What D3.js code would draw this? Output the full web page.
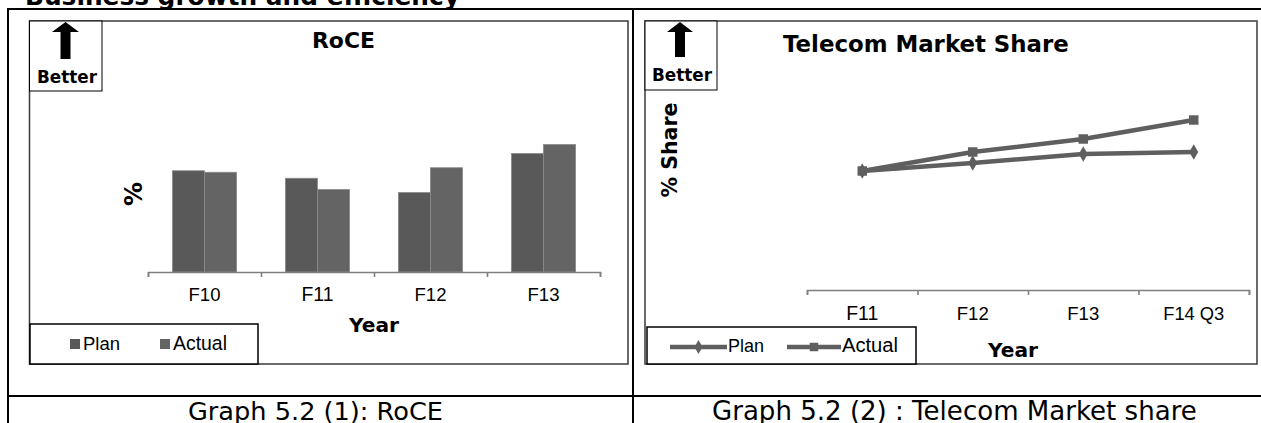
<!DOCTYPE html>
<html><head><meta charset="utf-8">
<script src="https://cdnjs.cloudflare.com/ajax/libs/d3/7.8.5/d3.min.js"></script>
<style>html,body{margin:0;padding:0;background:#fff;overflow:hidden}</style>
</head><body>
<svg id="c" width="1261" height="423"></svg>
<script>
// ---- data ----
const roceCategories = ["F10", "F11", "F12", "F13"];
const roceSeries = ["Plan", "Actual"];
const rocePlan = [13.5, 12.5, 10.6, 15.8];
const roceActual = [13.3, 11.0, 13.9, 17.0];

const telecomCategories = ["F11", "F12", "F13", "F14 Q3"];
const telecomSeries = ["Plan", "Actual"];
const telecomPlan = [23.8, 25.4, 27.2, 27.6];
const telecomActual = [23.8, 27.6, 30.2, 34.0];

const pageTitle = "Business growth and efficiency";
const captions = ["Graph 5.2 (1): RoCE", "Graph 5.2 (2) : Telecom Market share"];

// ---- drawing ----
const svg = d3.select("#c");
const BOLD = "'DejaVu Sans', Verdana, sans-serif";
const REG = "'DejaVu Sans', Tahoma, sans-serif";
const AX = "'Liberation Sans', Tahoma, sans-serif";

function txt(s, x, y, opt) {
  const t = svg.append("text").attr("x", x).attr("y", y).text(s)
    .attr("font-family", opt.family || REG)
    .attr("font-weight", opt.bold ? "bold" : "normal")
    .attr("font-size", 20)
    .attr("fill", "#000")
    .attr("text-anchor", opt.anchor || "start");
  if (opt.rotate) t.attr("transform", `rotate(-90 ${x} ${y})`);
  if (opt.width) {
    const len = t.node().getComputedTextLength();
    t.attr("font-size", (20 * opt.width / len).toFixed(2));
  }
  return t;
}

function arrow(cx, tipY, headW, baseY, shaftW, bottomY) {
  const p = d3.path();
  p.moveTo(cx, tipY);
  p.lineTo(cx + headW / 2, baseY);
  p.lineTo(cx + shaftW / 2, baseY);
  p.lineTo(cx + shaftW / 2, bottomY);
  p.lineTo(cx - shaftW / 2, bottomY);
  p.lineTo(cx - shaftW / 2, baseY);
  p.lineTo(cx - headW / 2, baseY);
  p.closePath();
  svg.append("path").attr("d", p.toString()).attr("fill", "#000");
}

// page title (cut off at top)
txt(pageTitle, 25, 5, {bold: true, family: BOLD, width: 435});

// table lines
const line = (x1, y1, x2, y2, w) => svg.append("line").attr("x1", x1).attr("y1", y1)
  .attr("x2", x2).attr("y2", y2).attr("stroke", "#000").attr("stroke-width", w);
line(7, 9, 1261, 9, 2);
line(8, 8, 8, 423, 2);
line(633, 8, 633, 423, 2);
line(7, 396, 1261, 396, 2);

// ======== Left chart: RoCE ========
svg.append("rect").attr("x", 29.5).attr("y", 21).attr("width", 598.5).attr("height", 343)
  .attr("fill", "#fff").attr("stroke", "#3a3a3a").attr("stroke-width", 1.5);
svg.append("rect").attr("x", 29.5).attr("y", 21).attr("width", 72.5).attr("height", 70)
  .attr("fill", "#fff").attr("stroke", "#000").attr("stroke-width", 1);
arrow(65.5, 22, 27, 32, 10, 59);
txt("Better", 37, 83, {bold: true, family: BOLD, width: 60});
txt("RoCE", 312, 48, {bold: true, family: BOLD, width: 63});
txt("%", 142, 194, {bold: true, family: BOLD, width: 24, rotate: true, anchor: "middle"});

const x0 = d3.scaleBand().domain(roceCategories).range([148, 600]).paddingInner(0.432).paddingOuter(0.216);
const x1 = d3.scaleBand().domain(roceSeries).range([0, x0.bandwidth()]);
const yL = d3.scaleLinear().domain([0, 20]).range([272, 122]);
const barColors = {Plan: "#595959", Actual: "#646464"};
const roceRows = roceCategories.map((c, i) => ({c, vals: [
  {s: "Plan", v: rocePlan[i]}, {s: "Actual", v: roceActual[i]}]}));
svg.append("g").selectAll("g").data(roceRows).join("g")
  .attr("transform", d => `translate(${x0(d.c)},0)`)
  .selectAll("rect").data(d => d.vals).join("rect")
  .attr("x", d => x1(d.s)).attr("width", x1.bandwidth())
  .attr("y", d => yL(d.v)).attr("height", d => yL(0) - yL(d.v))
  .attr("fill", d => barColors[d.s]).attr("stroke", "#8a8a8a").attr("stroke-width", 0.8);

// tick marks at category boundaries
const tickScaleL = d3.scaleLinear().domain([0, roceCategories.length]).range([148, 600]);
const axL = svg.append("g").attr("transform", "translate(0,272)")
  .call(d3.axisBottom(tickScaleL).ticks(roceCategories.length).tickSize(5).tickSizeOuter(5).tickFormat(""));
axL.selectAll("path,line").attr("stroke", "#7f7f7f").attr("stroke-width", 1.6);
roceCategories.forEach(c => txt(c, x0(c) + x0.bandwidth() / 2, 301, {family: AX, anchor: "middle", width: 32}));
txt("Year", 374, 332, {bold: true, family: BOLD, anchor: "middle", width: 50});

// legend left
svg.append("rect").attr("x", 30).attr("y", 324).attr("width", 228).attr("height", 40)
  .attr("fill", "#fff").attr("stroke", "#000").attr("stroke-width", 1.5);
const legL = [{s: roceSeries[0], x: 70, w: 37}, {s: roceSeries[1], x: 160, w: 54}];
legL.forEach(l => {
  svg.append("rect").attr("x", l.x).attr("y", 339).attr("width", 10).attr("height", 10).attr("fill", barColors[l.s]);
  txt(l.s, l.x + 13, 350, {family: AX, width: l.w});
});

// ======== Right chart: Telecom ========
svg.append("rect").attr("x", 645).attr("y", 21).attr("width", 612).attr("height", 343)
  .attr("fill", "#fff").attr("stroke", "#3a3a3a").attr("stroke-width", 1.5);
svg.append("rect").attr("x", 645).attr("y", 21).attr("width", 72).attr("height", 69)
  .attr("fill", "#fff").attr("stroke", "#000").attr("stroke-width", 1);
arrow(680, 22, 26, 32, 10, 57);
txt("Better", 652, 81, {bold: true, family: BOLD, width: 60});
txt("Telecom Market Share", 783, 52, {bold: true, family: BOLD, width: 286});
txt("% Share", 677, 150, {bold: true, family: BOLD, width: 95, rotate: true, anchor: "middle"});

const xR = d3.scaleBand().domain(telecomCategories).range([807, 1249]);
const yR = d3.scaleLinear().domain([0, 40]).range([290, 90]);
const cx = c => xR(c) + xR.bandwidth() / 2;
const tickScaleR = d3.scaleLinear().domain([0, telecomCategories.length]).range([807, 1249]);
const axR = svg.append("g").attr("transform", "translate(0,290)")
  .call(d3.axisBottom(tickScaleR).ticks(telecomCategories.length).tickSize(5).tickSizeOuter(5).tickFormat(""));
axR.selectAll("path,line").attr("stroke", "#7f7f7f").attr("stroke-width", 1.6);
telecomCategories.forEach(c => txt(c, cx(c), 320, {family: AX, anchor: "middle", width: c.length > 3 ? 61 : 32}));
txt("Year", 988, 357, {bold: true, family: BOLD, width: 50});

const lineColor = "#5f5f5f";
const lineGen = d3.line().x(d => cx(d.c)).y(d => yR(d.v));
const seriesData = [
  {s: "Plan", sym: d3.symbolDiamond, size: 70, pts: telecomCategories.map((c, i) => ({c, v: telecomPlan[i]}))},
  {s: "Actual", sym: d3.symbolSquare, size: 90, pts: telecomCategories.map((c, i) => ({c, v: telecomActual[i]}))}
];
seriesData.forEach(sd => {
  svg.append("path").datum(sd.pts).attr("d", lineGen).attr("fill", "none")
    .attr("stroke", lineColor).attr("stroke-width", 4.5).attr("stroke-linejoin", "round");
  svg.append("g").selectAll("path").data(sd.pts).join("path")
    .attr("transform", d => `translate(${cx(d.c)},${yR(d.v)})`)
    .attr("d", d3.symbol().type(sd.sym).size(sd.size)).attr("fill", lineColor);
});

// legend right
svg.append("rect").attr("x", 647).attr("y", 327).attr("width", 269).attr("height", 37)
  .attr("fill", "#fff").attr("stroke", "#000").attr("stroke-width", 1.5);
const legR = [{sd: seriesData[0], x1: 670, x2: 727, w: 36}, {sd: seriesData[1], x1: 787, x2: 841, w: 56}];
legR.forEach(l => {
  svg.append("line").attr("x1", l.x1).attr("x2", l.x2).attr("y1", 347).attr("y2", 347)
    .attr("stroke", lineColor).attr("stroke-width", 4.5);
  svg.append("path").attr("transform", `translate(${(l.x1 + l.x2) / 2},347)`)
    .attr("d", d3.symbol().type(l.sd.sym).size(l.sd.size * 0.8)).attr("fill", lineColor);
  txt(l.sd.s, l.x2 + 1, 352, {family: AX, width: l.w});
});

// captions
txt(captions[0], 188, 420, {family: REG, width: 255});
txt(captions[1], 712, 420, {family: REG, width: 485});
</script>
</body></html>
